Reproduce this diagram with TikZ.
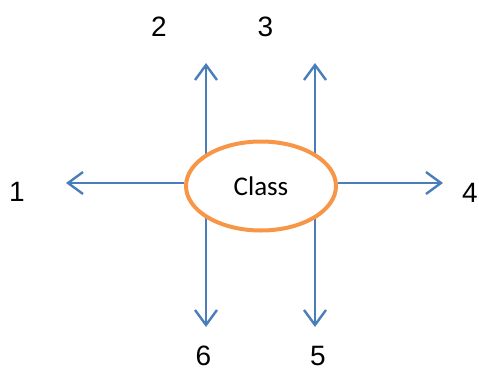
\documentclass[tikz,border=0pt]{standalone}
\usepackage{fontspec}
\setmainfont{Liberation Sans}
\newfontfamily\calibrifont{Carlito}
\usetikzlibrary{shapes.geometric,arrows.meta,backgrounds}
\definecolor{arrowblue}{HTML}{4A7EBB}
\definecolor{ovalorange}{HTML}{F79646}
\tikzset{
  conn/.style={draw=arrowblue, line width=2.4pt, -{Straight Barb[length=15pt,width=22pt,line width=2.4pt]}},
  lab/.style={inner sep=0pt, font=\fontsize{28}{30}\selectfont},
  oval/.style={ellipse, draw=ovalorange, line width=4pt, fill=white, minimum width=150pt, minimum height=89pt, inner sep=0pt, font=\calibrifont\fontsize{27}{29}\selectfont}
}
\begin{document}
\begin{tikzpicture}[x=1pt,y=-1pt]
\useasboundingbox (0,0) rectangle (479,370);
\node[oval] (e) at (261,186) {Class};
\coordinate (t1) at (66,183);
\coordinate (t4) at (443,183);
\coordinate (t2) at (206,63);
\coordinate (t3) at (315,63);
\coordinate (t6) at (206,327);
\coordinate (t5) at (315,327);
\begin{scope}[on background layer]
\draw[conn] (e.west |- t1) -- (t1);
\draw[conn] (e.east |- t4) -- (t4);
\draw[conn] (t2 |- e.center) -- (t2);
\draw[conn] (t3 |- e.center) -- (t3);
\draw[conn] (t6 |- e.center) -- (t6);
\draw[conn] (t5 |- e.center) -- (t5);
\end{scope}
\node[lab] (l1) at (17,192) {1};
\node[lab] (l2) at (159,27) {2};
\node[lab] (l3) at (265.5,27) {3};
\node[lab] (l4) at (470,193) {4};
\node[lab] (l6) at (203.5,356) {6};
\node[lab] (l5) at (318,356) {5};
\end{tikzpicture}
\end{document}
